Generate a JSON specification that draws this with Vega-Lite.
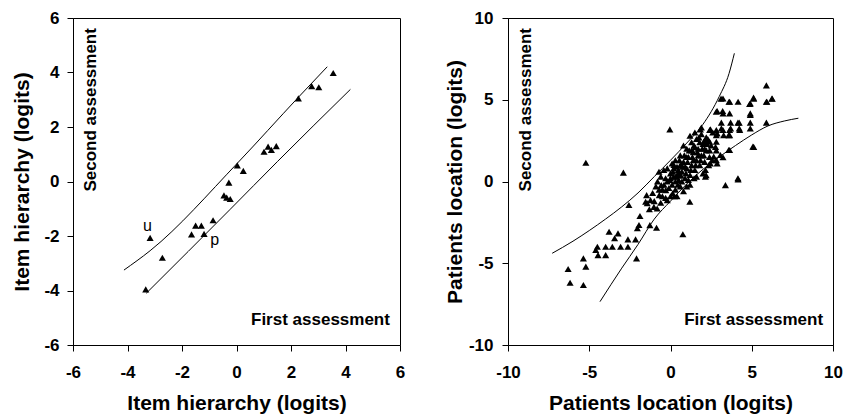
{
  "$schema": "https://vega.github.io/schema/vega-lite/v6.json",
  "padding": {"left": 11, "top": 8, "right": 0, "bottom": 2},
  "spacing": 37,
  "config": {
    "view": {"stroke": "black", "strokeWidth": 1},
    "font": "Liberation Sans",
    "axis": {
      "grid": false,
      "domainColor": "black",
      "tickColor": "black",
      "tickSize": 6,
      "labelFlush": false,
      "labelOverlap": false,
      "labelFont": "Liberation Sans",
      "labelFontWeight": "bold",
      "labelFontSize": 17,
      "labelColor": "black",
      "titleFont": "Liberation Sans",
      "titleFontWeight": "bold",
      "titleFontSize": 21,
      "titleColor": "black",
      "labelExpr": "toString(datum.value)"
    },
    "axisX": {"labelPadding": 13, "titlePadding": 12},
    "axisY": {"labelPadding": 8, "titlePadding": 11}
  },
  "datasets": {
    "itemPts": [
      {"x": -3.33, "y": -3.96}, {"x": -3.17, "y": -2.07}, {"x": -2.72, "y": -2.80},
      {"x": -1.65, "y": -1.94}, {"x": -1.50, "y": -1.62}, {"x": -1.29, "y": -1.62},
      {"x": -1.19, "y": -1.92}, {"x": -0.86, "y": -1.42}, {"x": -0.46, "y": -0.51},
      {"x": -0.36, "y": -0.59}, {"x": -0.23, "y": -0.64}, {"x": -0.28, "y": -0.04},
      {"x": 0.03, "y": 0.59}, {"x": 0.25, "y": 0.39}, {"x": 1.01, "y": 1.09},
      {"x": 1.16, "y": 1.28}, {"x": 1.28, "y": 1.16}, {"x": 1.46, "y": 1.30},
      {"x": 2.27, "y": 3.05}, {"x": 2.76, "y": 3.50}, {"x": 3.02, "y": 3.46},
      {"x": 3.55, "y": 3.98}
    ],
    "itemCurves": [
      {"band": "upper", "x": -4.13, "y": -3.25}, {"band": "upper", "x": -3.17, "y": -2.54},
      {"band": "upper", "x": 0.03, "y": 0.67}, {"band": "upper", "x": 2.27, "y": 3.09},
      {"band": "upper", "x": 3.33, "y": 4.21},
      {"band": "lower", "x": -3.31, "y": -4.10}, {"band": "lower", "x": -0.23, "y": -1.02},
      {"band": "lower", "x": 1.5, "y": 0.73}, {"band": "lower", "x": 4.18, "y": 3.38}
    ],
    "itemLabels": [
      {"x": -3.27, "y": -1.63, "label": "u"},
      {"x": -0.80, "y": -2.15, "label": "p"}
    ],
    "itemNoteV": [{"x": -5.62, "y": 5.63, "text": "Second assessment"}],
    "itemNoteH": [{"x": 5.63, "y": -5.27, "text": "First assessment"}],
    "patPts": [
      {"x": -6.30, "y": -5.35}, {"x": -6.18, "y": -6.19}, {"x": -5.36, "y": -6.33},
      {"x": -5.36, "y": -4.70}, {"x": -5.21, "y": -5.21}, {"x": -4.60, "y": -4.19},
      {"x": -4.50, "y": -3.99}, {"x": -4.46, "y": -4.50}, {"x": -3.99, "y": -3.99},
      {"x": -3.99, "y": -4.50}, {"x": -3.58, "y": -3.99}, {"x": -3.07, "y": -3.99},
      {"x": -2.62, "y": -3.99}, {"x": -3.78, "y": -3.07}, {"x": -3.23, "y": -3.17},
      {"x": -3.44, "y": -3.47}, {"x": -2.62, "y": -3.54}, {"x": -2.15, "y": -3.54},
      {"x": -2.09, "y": -4.70}, {"x": -1.94, "y": -2.66}, {"x": -2.04, "y": -2.86},
      {"x": -1.88, "y": -2.11}, {"x": -2.56, "y": -1.44}, {"x": -1.43, "y": -1.33},
      {"x": -1.47, "y": -0.83}, {"x": -5.21, "y": 1.15}, {"x": -2.90, "y": 0.54},
      {"x": -1.27, "y": -2.67}, {"x": -0.86, "y": -2.83}, {"x": 0.76, "y": -3.23},
      {"x": -1.53, "y": -1.24}, {"x": -1.23, "y": -1.14}, {"x": -1.02, "y": -1.55},
      {"x": -0.82, "y": -1.65}, {"x": -0.69, "y": -0.83}, {"x": -0.57, "y": -0.22},
      {"x": -0.71, "y": 0.60}, {"x": -0.41, "y": 0.70}, {"x": -0.29, "y": -0.53},
      {"x": -0.20, "y": -1.14}, {"x": -0.04, "y": 0.09}, {"x": 0.13, "y": -0.73},
      {"x": 0.21, "y": 1.01}, {"x": 0.35, "y": 0.29}, {"x": 0.48, "y": 0.70},
      {"x": 1.19, "y": -1.24}, {"x": -0.04, "y": 3.19},
      {"x": -0.9, "y": -0.3}, {"x": -0.6, "y": 0.3}, {"x": -0.5, "y": -0.9},
      {"x": -0.3, "y": 0.2}, {"x": -0.1, "y": -0.4}, {"x": 0.0, "y": 0.5},
      {"x": 0.1, "y": -0.2}, {"x": 0.2, "y": 0.3}, {"x": 0.3, "y": -0.5},
      {"x": 0.4, "y": 0.9}, {"x": 0.5, "y": 0.1}, {"x": 0.6, "y": -0.3},
      {"x": 0.7, "y": 0.6}, {"x": 0.8, "y": 1.2}, {"x": 0.9, "y": 0.2},
      {"x": 1.0, "y": 0.8}, {"x": 1.1, "y": 1.5}, {"x": 1.2, "y": 0.4},
      {"x": 1.3, "y": 1.0}, {"x": 1.4, "y": 1.8}, {"x": 1.5, "y": 0.7},
      {"x": 1.6, "y": 1.3}, {"x": 1.7, "y": 2.0}, {"x": 1.8, "y": 1.0},
      {"x": 1.9, "y": 1.6}, {"x": 2.0, "y": 2.3}, {"x": 2.1, "y": 1.2},
      {"x": 2.2, "y": 1.9}, {"x": 2.3, "y": 2.6}, {"x": 2.4, "y": 1.5},
      {"x": 0.3, "y": 1.3}, {"x": 0.6, "y": 1.6}, {"x": 1.0, "y": 2.0},
      {"x": 1.3, "y": 2.4}, {"x": 1.6, "y": 2.6}, {"x": 1.9, "y": 2.9},
      {"x": 2.2, "y": 2.7}, {"x": 2.5, "y": 2.2}, {"x": 2.6, "y": 3.0},
      {"x": 0.0, "y": -0.9}, {"x": 0.4, "y": -0.9}, {"x": 0.8, "y": -0.6},
      {"x": 1.2, "y": -0.2}, {"x": 1.6, "y": 0.3}, {"x": 2.0, "y": 0.5},
      {"x": -0.4, "y": -0.2}, {"x": 0.2, "y": 0.8}, {"x": 0.5, "y": 0.5},
      {"x": 0.9, "y": 0.9}, {"x": 1.1, "y": 0.1}, {"x": 1.4, "y": 1.3},
      {"x": 1.7, "y": 1.6}, {"x": 2.1, "y": 2.0}, {"x": 0.7, "y": 0.0},
      {"x": 1.5, "y": 2.1}, {"x": 1.8, "y": 2.4}, {"x": -0.2, "y": 0.8},
      {"x": 0.1, "y": 1.1}, {"x": 0.4, "y": 0.4}, {"x": 1.0, "y": 1.5},
      {"x": 0.6, "y": 1.0}, {"x": 1.3, "y": 1.9}, {"x": 0.8, "y": 2.2},
      {"x": 1.2, "y": 2.8}, {"x": 1.5, "y": 3.0}, {"x": 1.9, "y": 3.3},
      {"x": -0.7, "y": -0.5}, {"x": -1.1, "y": -0.7}, {"x": -1.3, "y": -1.7},
      {"x": -0.6, "y": -1.3},
      {"x": -0.8, "y": 0.0}, {"x": -0.5, "y": -0.5}, {"x": -0.2, "y": 0.0},
      {"x": 0.0, "y": 0.2}, {"x": 0.15, "y": 0.6}, {"x": 0.3, "y": 0.0},
      {"x": 0.45, "y": -0.2}, {"x": 0.55, "y": 1.3}, {"x": 0.65, "y": 0.35},
      {"x": 0.75, "y": 0.9}, {"x": 0.85, "y": 1.6}, {"x": 0.95, "y": 0.5},
      {"x": 1.05, "y": 1.2}, {"x": 1.15, "y": 1.9}, {"x": 1.25, "y": 0.7},
      {"x": 1.35, "y": 1.5}, {"x": 1.45, "y": 2.2}, {"x": 1.55, "y": 1.0},
      {"x": 1.65, "y": 1.8}, {"x": 1.75, "y": 2.7}, {"x": 1.85, "y": 1.3},
      {"x": 1.95, "y": 2.0}, {"x": 2.05, "y": 1.6}, {"x": 2.25, "y": 2.3},
      {"x": 2.35, "y": 1.0}, {"x": -1.0, "y": -1.2}, {"x": -0.3, "y": -1.0},
      {"x": 0.25, "y": -0.9}, {"x": 1.0, "y": -0.3}, {"x": 1.45, "y": 0.2},
      {"x": 1.84, "y": 3.19}, {"x": 2.15, "y": 2.50}, {"x": 2.46, "y": 3.19},
      {"x": 2.19, "y": 0.39}, {"x": 2.56, "y": 1.31}, {"x": 2.77, "y": 2.12},
      {"x": 2.87, "y": 4.31}, {"x": 3.11, "y": 5.07}, {"x": 3.60, "y": 4.88},
      {"x": 4.16, "y": 4.88}, {"x": 4.87, "y": 4.74}, {"x": 5.12, "y": 5.07},
      {"x": 5.90, "y": 5.88}, {"x": 5.90, "y": 4.88}, {"x": 6.26, "y": 5.07},
      {"x": 5.90, "y": 3.60}, {"x": 5.12, "y": 2.12}, {"x": 4.16, "y": 0.13},
      {"x": 3.38, "y": -0.22}, {"x": 4.91, "y": 4.07}, {"x": 4.91, "y": 3.60},
      {"x": 4.91, "y": 3.25}, {"x": 4.23, "y": 3.60}, {"x": 4.23, "y": 3.25},
      {"x": 3.70, "y": 3.60}, {"x": 3.70, "y": 3.25}, {"x": 3.13, "y": 3.60},
      {"x": 3.13, "y": 3.25}, {"x": 2.87, "y": 2.94}, {"x": 3.21, "y": 4.31},
      {"x": 3.58, "y": 2.84}, {"x": 3.27, "y": 2.84}, {"x": 3.58, "y": 1.93},
      {"x": 3.07, "y": 1.62}, {"x": 2.87, "y": 1.11}, {"x": 2.66, "y": 1.52},
      {"x": 3.64, "y": 4.88}, {"x": 3.23, "y": 5.08}, {"x": 2.82, "y": 4.27},
      {"x": 3.23, "y": 4.17}, {"x": 3.64, "y": 4.17}, {"x": 4.91, "y": 4.17},
      {"x": 4.15, "y": 3.60}, {"x": 2.41, "y": 3.15}, {"x": 2.82, "y": 3.15},
      {"x": 3.23, "y": 3.15}, {"x": 3.64, "y": 3.15}, {"x": 4.26, "y": 3.15},
      {"x": 2.82, "y": 2.84}, {"x": 3.64, "y": 2.84}, {"x": 2.04, "y": 2.43},
      {"x": 2.41, "y": 2.43}, {"x": 2.82, "y": 2.43}, {"x": 5.07, "y": 2.13},
      {"x": 3.64, "y": 1.93}, {"x": 2.82, "y": 1.90}, {"x": 2.41, "y": 1.90},
      {"x": 3.23, "y": 1.48}, {"x": 2.82, "y": 1.31}, {"x": 2.45, "y": 1.11},
      {"x": 2.15, "y": 0.70}, {"x": 4.15, "y": 0.20}, {"x": 2.15, "y": 0.29},
      {"x": 5.11, "y": 5.13}, {"x": 4.91, "y": 4.78}, {"x": 5.93, "y": 4.88},
      {"x": 6.24, "y": 5.08}
    ],
    "patCurves": [
      {"band": "upper", "x": -7.28, "y": -4.39}, {"band": "upper", "x": -6, "y": -3.65},
      {"band": "upper", "x": -5, "y": -3.0}, {"band": "upper", "x": -4, "y": -2.3},
      {"band": "upper", "x": -3, "y": -1.55}, {"band": "upper", "x": -2, "y": -0.7},
      {"band": "upper", "x": -1, "y": 0.3}, {"band": "upper", "x": 0, "y": 1.3},
      {"band": "upper", "x": 1, "y": 2.35}, {"band": "upper", "x": 2, "y": 3.5},
      {"band": "upper", "x": 3, "y": 5.2}, {"band": "upper", "x": 3.6, "y": 6.6},
      {"band": "upper", "x": 3.93, "y": 7.84},
      {"band": "lower", "x": -4.34, "y": -7.35}, {"band": "lower", "x": -3, "y": -5.3},
      {"band": "lower", "x": -2, "y": -3.85}, {"band": "lower", "x": -1, "y": -2.3},
      {"band": "lower", "x": 0, "y": -1.2}, {"band": "lower", "x": 1, "y": -0.15},
      {"band": "lower", "x": 2, "y": 0.75}, {"band": "lower", "x": 3, "y": 1.5},
      {"band": "lower", "x": 4, "y": 2.2}, {"band": "lower", "x": 5, "y": 2.85},
      {"band": "lower", "x": 6, "y": 3.4}, {"band": "lower", "x": 7, "y": 3.7},
      {"band": "lower", "x": 7.87, "y": 3.87}
    ],
    "patNoteV": [{"x": -9.39, "y": 9.39, "text": "Second assessment"}],
    "patNoteH": [{"x": 9.39, "y": -8.78, "text": "First assessment"}]
  },
  "hconcat": [
    {
      "width": 327,
      "height": 327,
      "encoding": {
        "x": {"field": "x", "type": "quantitative", "scale": {"domain": [-6, 6], "nice": false, "zero": false},
              "axis": {"values": [-6, -4, -2, 0, 2, 4, 6], "title": "Item hierarchy (logits)"}},
        "y": {"field": "y", "type": "quantitative", "scale": {"domain": [-6, 6], "nice": false, "zero": false},
              "axis": {"values": [-6, -4, -2, 0, 2, 4, 6], "title": "Item hierarchy (logits)", "titlePadding": 11}}
      },
      "layer": [
        {
          "data": {"name": "itemCurves"},
          "mark": {"type": "line", "color": "black", "strokeWidth": 1, "interpolate": "monotone"},
          "encoding": {"detail": {"field": "band"}, "order": {"field": "x", "type": "quantitative"}}
        },
        {
          "data": {"name": "itemPts"},
          "mark": {"type": "point", "shape": "triangle-up", "filled": true, "color": "black", "opacity": 1, "size": 50}
        },
        {
          "data": {"name": "itemLabels"},
          "mark": {"type": "text", "fontSize": 16, "color": "black", "align": "center", "baseline": "middle"},
          "encoding": {"text": {"field": "label"}}
        },
        {
          "data": {"name": "itemNoteV"},
          "mark": {"type": "text", "fontSize": 17, "fontWeight": "bold", "color": "black", "angle": 270, "align": "right", "baseline": "top"},
          "encoding": {"text": {"field": "text"}}
        },
        {
          "data": {"name": "itemNoteH"},
          "mark": {"type": "text", "fontSize": 17, "fontWeight": "bold", "color": "black", "align": "right", "baseline": "alphabetic"},
          "encoding": {"text": {"field": "text"}}
        }
      ]
    },
    {
      "width": 325,
      "height": 327,
      "encoding": {
        "x": {"field": "x", "type": "quantitative", "scale": {"domain": [-10, 10], "nice": false, "zero": false},
              "axis": {"values": [-10, -5, 0, 5, 10], "title": "Patients location (logits)"}},
        "y": {"field": "y", "type": "quantitative", "scale": {"domain": [-10, 10], "nice": false, "zero": false},
              "axis": {"values": [-10, -5, 0, 5, 10], "title": "Patients location (logits)", "titlePadding": 3, "labelPadding": 9}}
      },
      "layer": [
        {
          "data": {"name": "patCurves"},
          "mark": {"type": "line", "color": "black", "strokeWidth": 1, "interpolate": "monotone"},
          "encoding": {"detail": {"field": "band"}, "order": {"field": "x", "type": "quantitative"}}
        },
        {
          "data": {"name": "patPts"},
          "mark": {"type": "point", "shape": "triangle-up", "filled": true, "color": "black", "opacity": 1, "size": 50}
        },
        {
          "data": {"name": "patNoteV"},
          "mark": {"type": "text", "fontSize": 17, "fontWeight": "bold", "color": "black", "angle": 270, "align": "right", "baseline": "top"},
          "encoding": {"text": {"field": "text"}}
        },
        {
          "data": {"name": "patNoteH"},
          "mark": {"type": "text", "fontSize": 17, "fontWeight": "bold", "color": "black", "align": "right", "baseline": "alphabetic"},
          "encoding": {"text": {"field": "text"}}
        }
      ]
    }
  ]
}
